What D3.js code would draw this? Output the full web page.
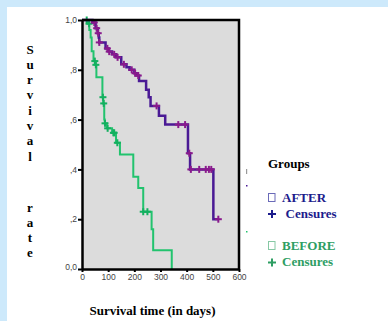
<!DOCTYPE html>
<html>
<head>
<meta charset="utf-8">
<script src="https://cdn.jsdelivr.net/npm/d3@7"></script>
<style>
  html, body { margin: 0; padding: 0; background: #cde9fb; }
  svg { display: block; }
</style>
</head>
<body>
<svg id="chart" width="388" height="321"></svg>
<script>
// ==============================
// DATA
// ==============================

// AFTER group: step function (time in days, survival after each drop)
const afterTime = [0, 40, 52, 60, 64, 66, 90, 102, 115, 130, 150, 170, 182, 200, 210, 218, 245, 255, 262, 294, 318, 405, 413, 502, 521];
const afterSurv = [1.0, 0.99, 0.967, 0.947, 0.93, 0.91, 0.886, 0.873, 0.862, 0.85, 0.822, 0.81, 0.8, 0.786, 0.777, 0.755, 0.72, 0.69, 0.655, 0.615, 0.58, 0.465, 0.40, 0.20, 0.20];
const afterCensors = [47, 56, 62, 66, 97, 104, 123, 136, 160, 190, 203, 215, 285, 368, 394, 410, 416, 448, 473, 485, 494, 521];

// BEFORE group
const beforeTime = [0, 22, 28, 33, 37, 44, 51, 55, 78, 81, 85, 87, 95, 115, 130, 145, 196, 215, 234, 266, 272, 343];
const beforeSurv = [1.0, 0.985, 0.96, 0.93, 0.875, 0.835, 0.82, 0.77, 0.69, 0.665, 0.60, 0.585, 0.565, 0.547, 0.507, 0.46, 0.37, 0.325, 0.23, 0.16, 0.075, 0];
const beforeCensors = [18, 27, 49, 53, 80, 83, 88, 98, 120, 123, 135, 234, 250];

// Axis ticks
const yTicks = [0, 0.2, 0.4, 0.6, 0.8, 1.0];
const yTickLabels = ["0,0", ",2", ",4", ",6", ",8", "1,0"];
const xTicks = [0, 100, 200, 300, 400, 500, 600];

// ==============================
// SETUP
// ==============================

const svg = d3.select("#chart");

svg.append("rect")
  .attr("x", 7).attr("y", 7)
  .attr("width", 381).attr("height", 314)
  .attr("fill", "#ffffff");

const x = d3.scaleLinear().domain([0, 600]).range([82, 239]);
const y = d3.scaleLinear().domain([0, 1]).range([269, 20]);

// Plot background
svg.append("rect")
  .attr("x", x(0)).attr("y", y(1))
  .attr("width", x(600) - x(0)).attr("height", y(0) - y(1))
  .attr("fill", "#dcdcdc");

// ==============================
// CURVES
// ==============================

function survivalAt(times, surv, t) {
  const i = d3.bisectRight(times, t) - 1;
  return surv[Math.max(0, i)];
}

const stepLine = d3.line()
  .x(d => x(d[0]))
  .y(d => y(d[1]))
  .curve(d3.curveStepAfter);

function drawGroup(times, surv, censors, lineColor, markColor, lineWidth) {
  const pts = times.map((t, i) => [t, surv[i]]);

  svg.append("path")
    .datum(pts)
    .attr("d", stepLine)
    .attr("fill", "none")
    .attr("stroke", lineColor)
    .attr("stroke-width", lineWidth);

  const marks = svg.append("g")
    .selectAll("g")
    .data(censors)
    .enter()
    .append("g")
    .attr("transform", t => `translate(${x(t)},${y(survivalAt(times, surv, t))})`)
    .attr("stroke", markColor)
    .attr("stroke-width", 2);

  marks.append("line").attr("x1", -3.5).attr("x2", 3.5).attr("y1", 0).attr("y2", 0);
  marks.append("line").attr("x1", 0).attr("x2", 0).attr("y1", -3.5).attr("y2", 3.5);
}

drawGroup(beforeTime, beforeSurv, beforeCensors, "#22c36e", "#14b060", 2);
drawGroup(afterTime, afterSurv, afterCensors, "#4a1a95", "#8a1a8c", 2.5);

// ==============================
// AXES AND FRAME
// ==============================

const yAxis = svg.append("g")
  .attr("transform", `translate(${x(0)},0)`)
  .call(d3.axisLeft(y)
    .tickValues(yTicks)
    .tickSize(4)
    .tickSizeOuter(0)
    .tickFormat((d, i) => yTickLabels[i]));

const xAxis = svg.append("g")
  .attr("transform", `translate(0,${y(0)})`)
  .call(d3.axisBottom(x)
    .tickValues(xTicks)
    .tickSize(3)
    .tickSizeOuter(0));

[yAxis, xAxis].forEach(ax => {
  ax.select(".domain").attr("stroke", "#000").attr("stroke-width", 2.5);
  ax.selectAll(".tick line").attr("stroke", "#000").attr("stroke-width", 2);
  ax.selectAll(".tick text")
    .attr("fill", "#444")
    .attr("font-family", "Arial, 'Liberation Sans', sans-serif")
    .attr("font-size", "8.5px");
});

yAxis.selectAll(".tick text")
  .attr("x", -5)
  .attr("dy", d => d === 0 ? "0.05em" : "0.32em");
xAxis.selectAll(".tick text").attr("y", 5);

// top and right frame
svg.append("path")
  .attr("d", `M${x(0)},${y(1)}H${x(600)}V${y(0)}`)
  .attr("fill", "none")
  .attr("stroke", "#000")
  .attr("stroke-width", 2.5);

// ==============================
// TITLES
// ==============================

const serif = "'Times New Roman', 'Liberation Serif', serif";

const yLabel = svg.append("g")
  .attr("font-family", serif)
  .attr("font-weight", "bold")
  .attr("font-size", "13px")
  .attr("text-anchor", "middle")
  .attr("fill", "#000");

"Survival".split("").forEach((ch, i) => {
  yLabel.append("text").attr("x", 30).attr("y", 53.5 + i * 15.3).text(ch);
});
"rate".split("").forEach((ch, i) => {
  yLabel.append("text").attr("x", 30).attr("y", 211.5 + i * 15.3).text(ch);
});

svg.append("text")
  .attr("x", 152.5).attr("y", 315)
  .attr("text-anchor", "middle")
  .attr("font-family", serif)
  .attr("font-weight", "bold")
  .attr("font-size", "13px")
  .text("Survival time (in days)");

// ==============================
// LEGEND
// ==============================

const legend = svg.append("g")
  .attr("font-family", serif)
  .attr("font-weight", "bold")
  .attr("font-size", "13px");

legend.append("text").attr("x", 268).attr("y", 168).attr("fill", "#000").text("Groups");

function legendEntry(top, name, color, boxColor) {
  legend.append("rect")
    .attr("x", 268.5).attr("y", top - 8.5)
    .attr("width", 6.5).attr("height", 8)
    .attr("fill", "#fff")
    .attr("stroke", boxColor)
    .attr("stroke-width", 1);
  legend.append("text").attr("x", 282).attr("y", top).attr("fill", color).text(name);
}

function legendPlus(cy, color) {
  const g = legend.append("g").attr("stroke", color).attr("stroke-width", 2);
  g.append("line").attr("x1", 268).attr("x2", 276).attr("y1", cy).attr("y2", cy);
  g.append("line").attr("x1", 272).attr("x2", 272).attr("y1", cy - 4).attr("y2", cy + 4);
}

legendEntry(202, "AFTER", "#1c1c8c", "#6a6ab8");
legendPlus(214, "#1c1c8c");
legend.append("text").attr("x", 285.5).attr("y", 217.5).attr("fill", "#1c1c8c").text("Censures");

legendEntry(250, "BEFORE", "#2e9e63", "#86c8a4");
legendPlus(262.5, "#2e9e63");
legend.append("text").attr("x", 282).attr("y", 266).attr("fill", "#2e9e63").text("Censures");

// stray marks of a hidden legend
svg.append("rect").attr("x", 246).attr("y", 169).attr("width", 1.2).attr("height", 5).attr("fill", "#999");
svg.append("rect").attr("x", 246).attr("y", 185).attr("width", 1.5).attr("height", 1.5).attr("fill", "#4a1a95");
svg.append("rect").attr("x", 246).attr("y", 231).attr("width", 1.5).attr("height", 1.5).attr("fill", "#22c36e");
</script>
</body>
</html>
